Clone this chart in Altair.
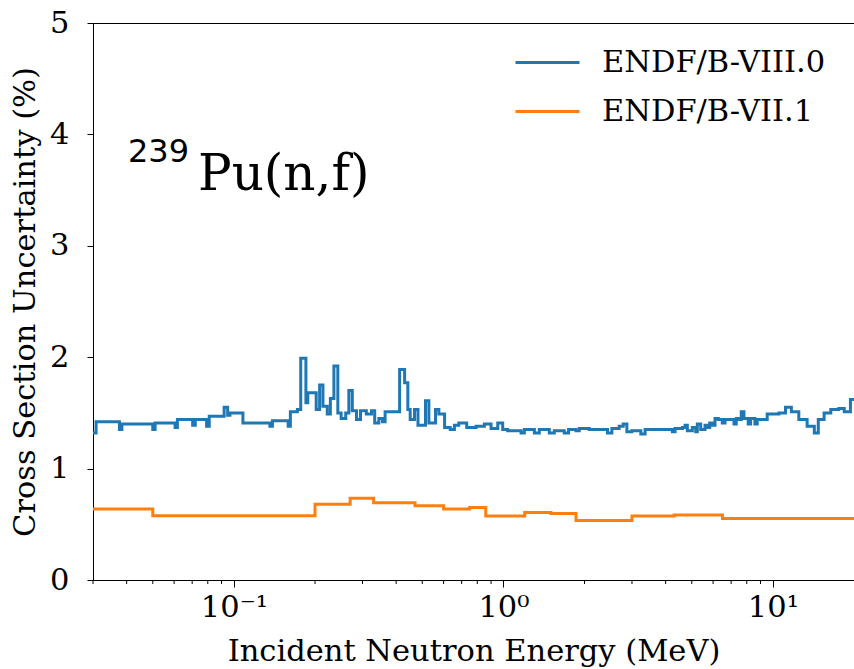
import altair as alt
import pandas as pd

# ENDF/B-VIII.0: lower group boundaries (MeV) and relative uncertainty (%)
b8_energy = [
    0.03, 0.0308, 0.0376, 0.0384, 0.050, 0.051, 0.0605, 0.0617, 0.0703, 0.0719,
    0.0792, 0.081, 0.092, 0.0948, 0.0967, 0.108, 0.136, 0.139, 0.159, 0.162,
    0.172, 0.177, 0.185, 0.188, 0.202, 0.208, 0.214, 0.222, 0.228, 0.235,
    0.243, 0.25, 0.26, 0.267, 0.275, 0.285, 0.295, 0.31, 0.324, 0.333,
    0.345, 0.356, 0.364,
    0.412, 0.43, 0.442, 0.451, 0.468, 0.482, 0.514, 0.529, 0.56, 0.576,
    0.605, 0.635, 0.658, 0.683, 0.731, 0.792, 0.85, 0.90, 0.953, 0.994,
    1.037, 1.163, 1.196, 1.303, 1.359, 1.48, 1.545, 1.682, 1.745, 1.859,
    1.912, 2.082, 2.434, 2.527, 2.689, 2.783, 2.872, 2.997, 3.236, 3.357,
    4.237, 4.336, 4.615, 4.722, 4.815, 5.025, 5.173, 5.244, 5.398, 5.6,
    5.712, 5.83, 5.961, 6.1, 6.273, 6.491, 6.643, 7.172, 7.314, 7.484,
    7.632, 7.81, 8.101, 8.268, 8.577, 8.748, 9.526, 10.53, 11.14, 11.71,
    12.48, 13.4, 14.25, 14.74, 15.49, 16.4, 17.56, 18.4, 19.4,
]
b8_unc = [
    1.32, 1.42, 1.35, 1.40, 1.35, 1.41, 1.37, 1.44, 1.39, 1.44,
    1.38, 1.47, 1.55, 1.48, 1.50, 1.41, 1.38, 1.43, 1.38, 1.51,
    1.53, 1.99, 1.59, 1.68, 1.53, 1.75, 1.56, 1.49, 1.63, 1.92,
    1.50, 1.45, 1.50, 1.70, 1.52, 1.44, 1.52, 1.49, 1.52, 1.41,
    1.45, 1.42, 1.51,
    1.89, 1.77, 1.53, 1.44, 1.53, 1.39, 1.61, 1.41, 1.53, 1.49,
    1.37, 1.35, 1.39, 1.41, 1.37, 1.38, 1.40, 1.36, 1.41, 1.35,
    1.34, 1.32, 1.35, 1.32, 1.35, 1.32, 1.34, 1.32, 1.35, 1.34,
    1.36, 1.35, 1.32, 1.36, 1.38, 1.40, 1.33, 1.34, 1.31, 1.35,
    1.33, 1.36, 1.37, 1.39, 1.34, 1.37, 1.33, 1.40, 1.35, 1.39,
    1.37, 1.41, 1.39, 1.45, 1.44, 1.41, 1.44, 1.40, 1.45, 1.44,
    1.51, 1.45, 1.40, 1.45, 1.40, 1.44, 1.49, 1.50, 1.55, 1.51,
    1.44, 1.38, 1.32, 1.44, 1.50, 1.53, 1.54, 1.51, 1.62,
]

# ENDF/B-VII.1: lower group boundaries (MeV) and relative uncertainty (%)
b7_energy = [0.03, 0.05, 0.2, 0.27, 0.33, 0.47, 0.6, 0.75, 0.86, 1.2, 1.5, 1.86, 3.0, 4.3, 6.5]
b7_unc = [0.637, 0.577, 0.68, 0.733, 0.694, 0.667, 0.637, 0.65, 0.574, 0.607, 0.598, 0.533, 0.574, 0.583, 0.553]

e_min, e_max = 0.03, 20.0
libraries = ["ENDF/B-VIII.0", "ENDF/B-VII.1"]
colors = ["#1f77b4", "#ff7f0e"]

major_ticks = [0.1, 1, 10]
minor_ticks = [0.03, 0.04, 0.05, 0.06, 0.07, 0.08, 0.09,
               0.2, 0.3, 0.4, 0.5, 0.6, 0.7, 0.8, 0.9,
               2, 3, 4, 5, 6, 7, 8, 9]
y_ticks = [0, 1, 2, 3, 4, 5]


def step_frame(energy, unc, name):
    # close the last group at the upper energy bound
    return pd.DataFrame({
        "energy": list(energy) + [e_max],
        "unc": list(unc) + [unc[-1]],
        "library": name,
        "order": list(range(len(energy) + 1)),
    })


data = pd.concat([
    step_frame(b8_energy, b8_unc, libraries[0]),
    step_frame(b7_energy, b7_unc, libraries[1]),
])

SERIF = "DejaVu Serif"
W, H = 761, 557
FS = 30.5

x_scale = alt.Scale(type="log", domain=[e_min, e_max], nice=False)

lines = alt.Chart(data).mark_line(
    interpolate="step-after", strokeWidth=3, clip=True
).encode(
    x=alt.X("energy:Q", scale=x_scale,
            axis=alt.Axis(values=major_ticks, title="Incident Neutron Energy (MeV)",
                          labelExpr="datum.value == 0.1 ? '10⁻¹' : datum.value == 1 ? '10⁰' : '10¹'",
                          tickSize=7, labelPadding=5, titlePadding=14)),
    y=alt.Y("unc:Q", scale=alt.Scale(domain=[0, 5], nice=False),
            axis=alt.Axis(values=y_ticks, title="Cross Section Uncertainty (%)",
                          tickSize=6, labelPadding=18, titlePadding=9)),
    color=alt.Color("library:N",
                    scale=alt.Scale(domain=libraries, range=colors),
                    legend=alt.Legend(title=None, orient="none", legendX=421, legendY=6,
                                      symbolType="stroke", symbolSize=4096,
                                      symbolStrokeWidth=3, labelFont=SERIF,
                                      labelFontSize=FS, labelOffset=21, labelLimit=0,
                                      labelColor="black",
                                      rowPadding=-3, padding=0)),
    order="order:Q",
)

minor = alt.Chart(pd.DataFrame({"energy": minor_ticks})).mark_rule(
    color="black", strokeWidth=1
).encode(
    x=alt.X("energy:Q", scale=x_scale),
    y=alt.value(H),
    y2=alt.value(H + 4),
)

label_main = alt.Chart(pd.DataFrame({"t": ["Pu(n,f)"]})).mark_text(
    font=SERIF, fontSize=50, align="left", baseline="alphabetic", color="black"
).encode(x=alt.value(105), y=alt.value(167), text="t:N")

label_sup = alt.Chart(pd.DataFrame({"t": ["239"]})).mark_text(
    font="DejaVu Sans", fontSize=32, align="left", baseline="alphabetic", color="black"
).encode(x=alt.value(35), y=alt.value(139), text="t:N")

chart = alt.layer(lines, minor, label_main, label_sup).properties(
    width=W, height=H,
    background="white",
    autosize=alt.AutoSizeParams(type="none"),
    padding={"left": 93, "top": 23, "right": 0, "bottom": 89},
).configure_view(
    stroke="black", strokeWidth=1
).configure_axis(
    grid=False, domainColor="black", tickColor="black", labelColor="black",
    titleColor="black", labelFont=SERIF, titleFont=SERIF, labelFontSize=FS,
    titleFontSize=FS, titleFontWeight="normal", domainWidth=1, tickWidth=1,
)

chart.save("out.html", embed_options={"renderer": "svg", "actions": False})
